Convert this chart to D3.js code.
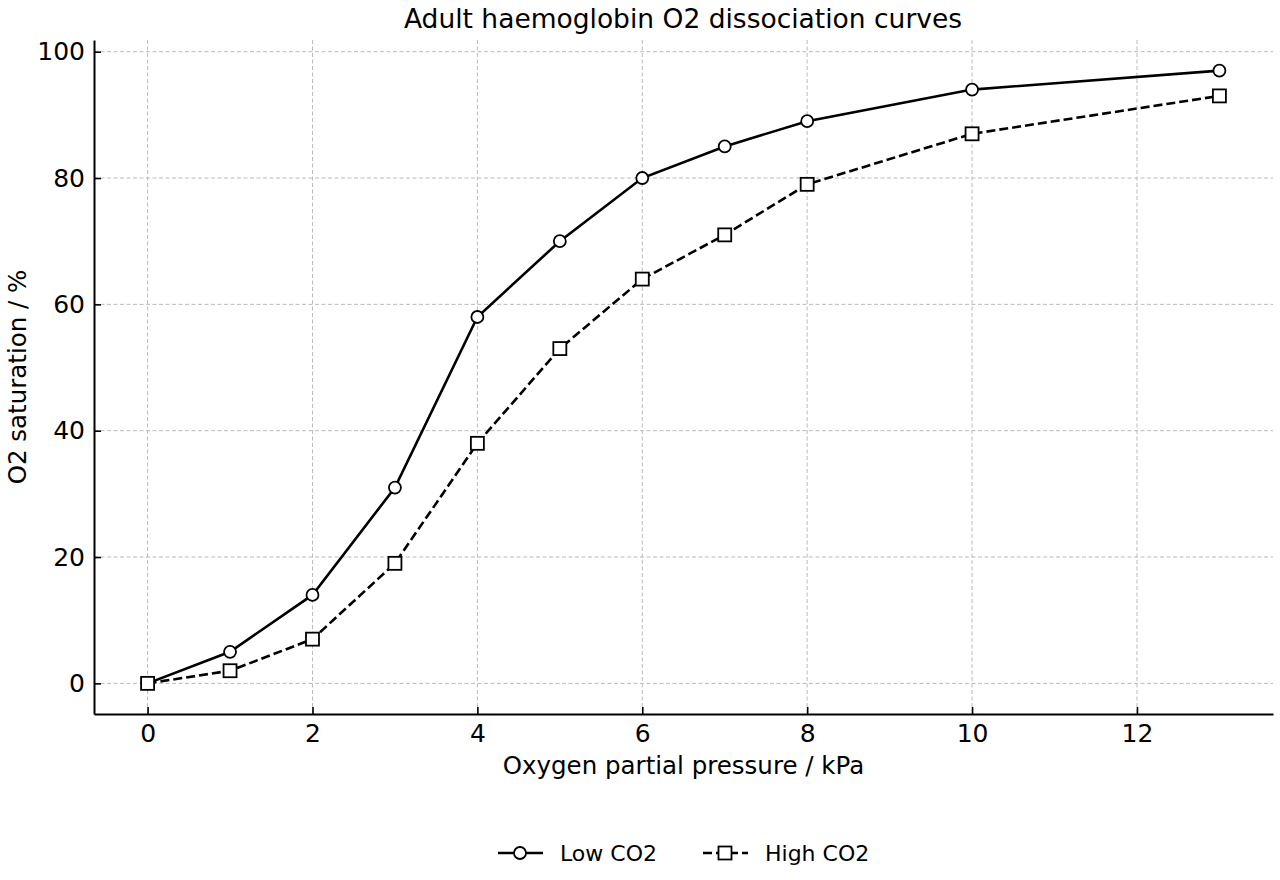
<!DOCTYPE html>
<html><head><meta charset="utf-8">
<script src="https://cdn.jsdelivr.net/npm/d3@7"></script>
<style>body{margin:0;background:#fff}svg{display:block;font-family:"DejaVu Sans",sans-serif}</style>
</head><body><svg id="c" width="1280" height="880"></svg>
<script>
const pressure = [0,1,2,3,4,5,6,7,8,10,13];
const lowCO2 = [0,5,14,31,58,70,80,85,89,94,97];
const highCO2 = [0,2,7,19,38,53,64,71,79,87,93];
const xTicks = [0,2,4,6,8,10,12];
const yTicks = [0,20,40,60,80,100];
const seriesNames = ["Low CO2","High CO2"];

const svg = d3.select("#c");
const L=94, R=1273, T=40, B=714;
const x = d3.scaleLinear().domain([-0.65,13.65]).range([L,R]);
const y = d3.scaleLinear().domain([-4.85,101.85]).range([B,T]);

const grid = svg.append("g");
xTicks.forEach(t=>grid.append("line").attr("x1",x(t)).attr("x2",x(t)).attr("y1",T).attr("y2",B)
  .attr("stroke","#bbbbbb").attr("stroke-width",1).attr("stroke-dasharray","4,2.5"));
yTicks.forEach(t=>grid.append("line").attr("x1",L).attr("x2",R).attr("y1",y(t)).attr("y2",y(t))
  .attr("stroke","#bbbbbb").attr("stroke-width",1).attr("stroke-dasharray","4,2.5"));

const xa = svg.append("g").attr("transform",`translate(0,${B})`)
  .call(d3.axisBottom(x).tickValues(xTicks).tickSizeInner(-7).tickSizeOuter(0).tickPadding(9));
const ya = svg.append("g").attr("transform",`translate(${L},0)`)
  .call(d3.axisLeft(y).tickValues(yTicks).tickSizeInner(-7).tickSizeOuter(0).tickPadding(9));
[xa,ya].forEach(a=>{
  a.attr("font-size",null).attr("font-family",null);
  a.select(".domain").attr("stroke","#000").attr("stroke-width",2);
  a.selectAll(".tick line").attr("stroke","#000").attr("stroke-width",1.6);
  a.selectAll(".tick text").style("font-size","25px").attr("fill","#000").style("font-family","DejaVu Sans");
});
xa.selectAll(".tick text").attr("dy","0.76em");

const line = d3.line().x((d,i)=>x(pressure[i])).y(d=>y(d));
svg.append("path").datum(lowCO2).attr("d",line).attr("fill","none").attr("stroke","#000").attr("stroke-width",2.6);
svg.append("path").datum(highCO2).attr("d",line).attr("fill","none").attr("stroke","#000").attr("stroke-width",2.6).attr("stroke-dasharray","9,4");

svg.append("g").selectAll("circle").data(lowCO2).join("circle")
  .attr("cx",(d,i)=>x(pressure[i])).attr("cy",d=>y(d)).attr("r",6)
  .attr("fill","#fff").attr("stroke","#000").attr("stroke-width",1.8);
svg.append("g").selectAll("rect").data(highCO2).join("rect")
  .attr("x",(d,i)=>x(pressure[i])-6.5).attr("y",d=>y(d)-6.5).attr("width",13).attr("height",13)
  .attr("fill","#fff").attr("stroke","#000").attr("stroke-width",1.8);

svg.append("text").attr("x",683).attr("y",28).attr("text-anchor","middle").style("font-size","26.5px").text("Adult haemoglobin O2 dissociation curves");
svg.append("text").attr("x",683.5).attr("y",774).attr("text-anchor","middle").style("font-size","24.5px").text("Oxygen partial pressure / kPa");
svg.append("text").attr("transform","translate(26,377) rotate(-90)").attr("text-anchor","middle").style("font-size","24.5px").text("O2 saturation / %");

// legend
const lg = svg.append("g");
const ly = 853;
lg.append("line").attr("x1",498).attr("x2",543).attr("y1",ly).attr("y2",ly).attr("stroke","#000").attr("stroke-width",2.6);
lg.append("circle").attr("cx",520).attr("cy",ly).attr("r",6).attr("fill","#fff").attr("stroke","#000").attr("stroke-width",1.8);
lg.append("text").attr("x",560).attr("y",ly+8).style("font-size","22px").text(seriesNames[0]);
lg.append("line").attr("x1",703).attr("x2",748).attr("y1",ly).attr("y2",ly).attr("stroke","#000").attr("stroke-width",2.6).attr("stroke-dasharray","9,4");
lg.append("rect").attr("x",718.5).attr("y",ly-6.5).attr("width",13).attr("height",13).attr("fill","#fff").attr("stroke","#000").attr("stroke-width",1.8);
lg.append("text").attr("x",765).attr("y",ly+8).style("font-size","22px").text(seriesNames[1]);
</script></body></html>
